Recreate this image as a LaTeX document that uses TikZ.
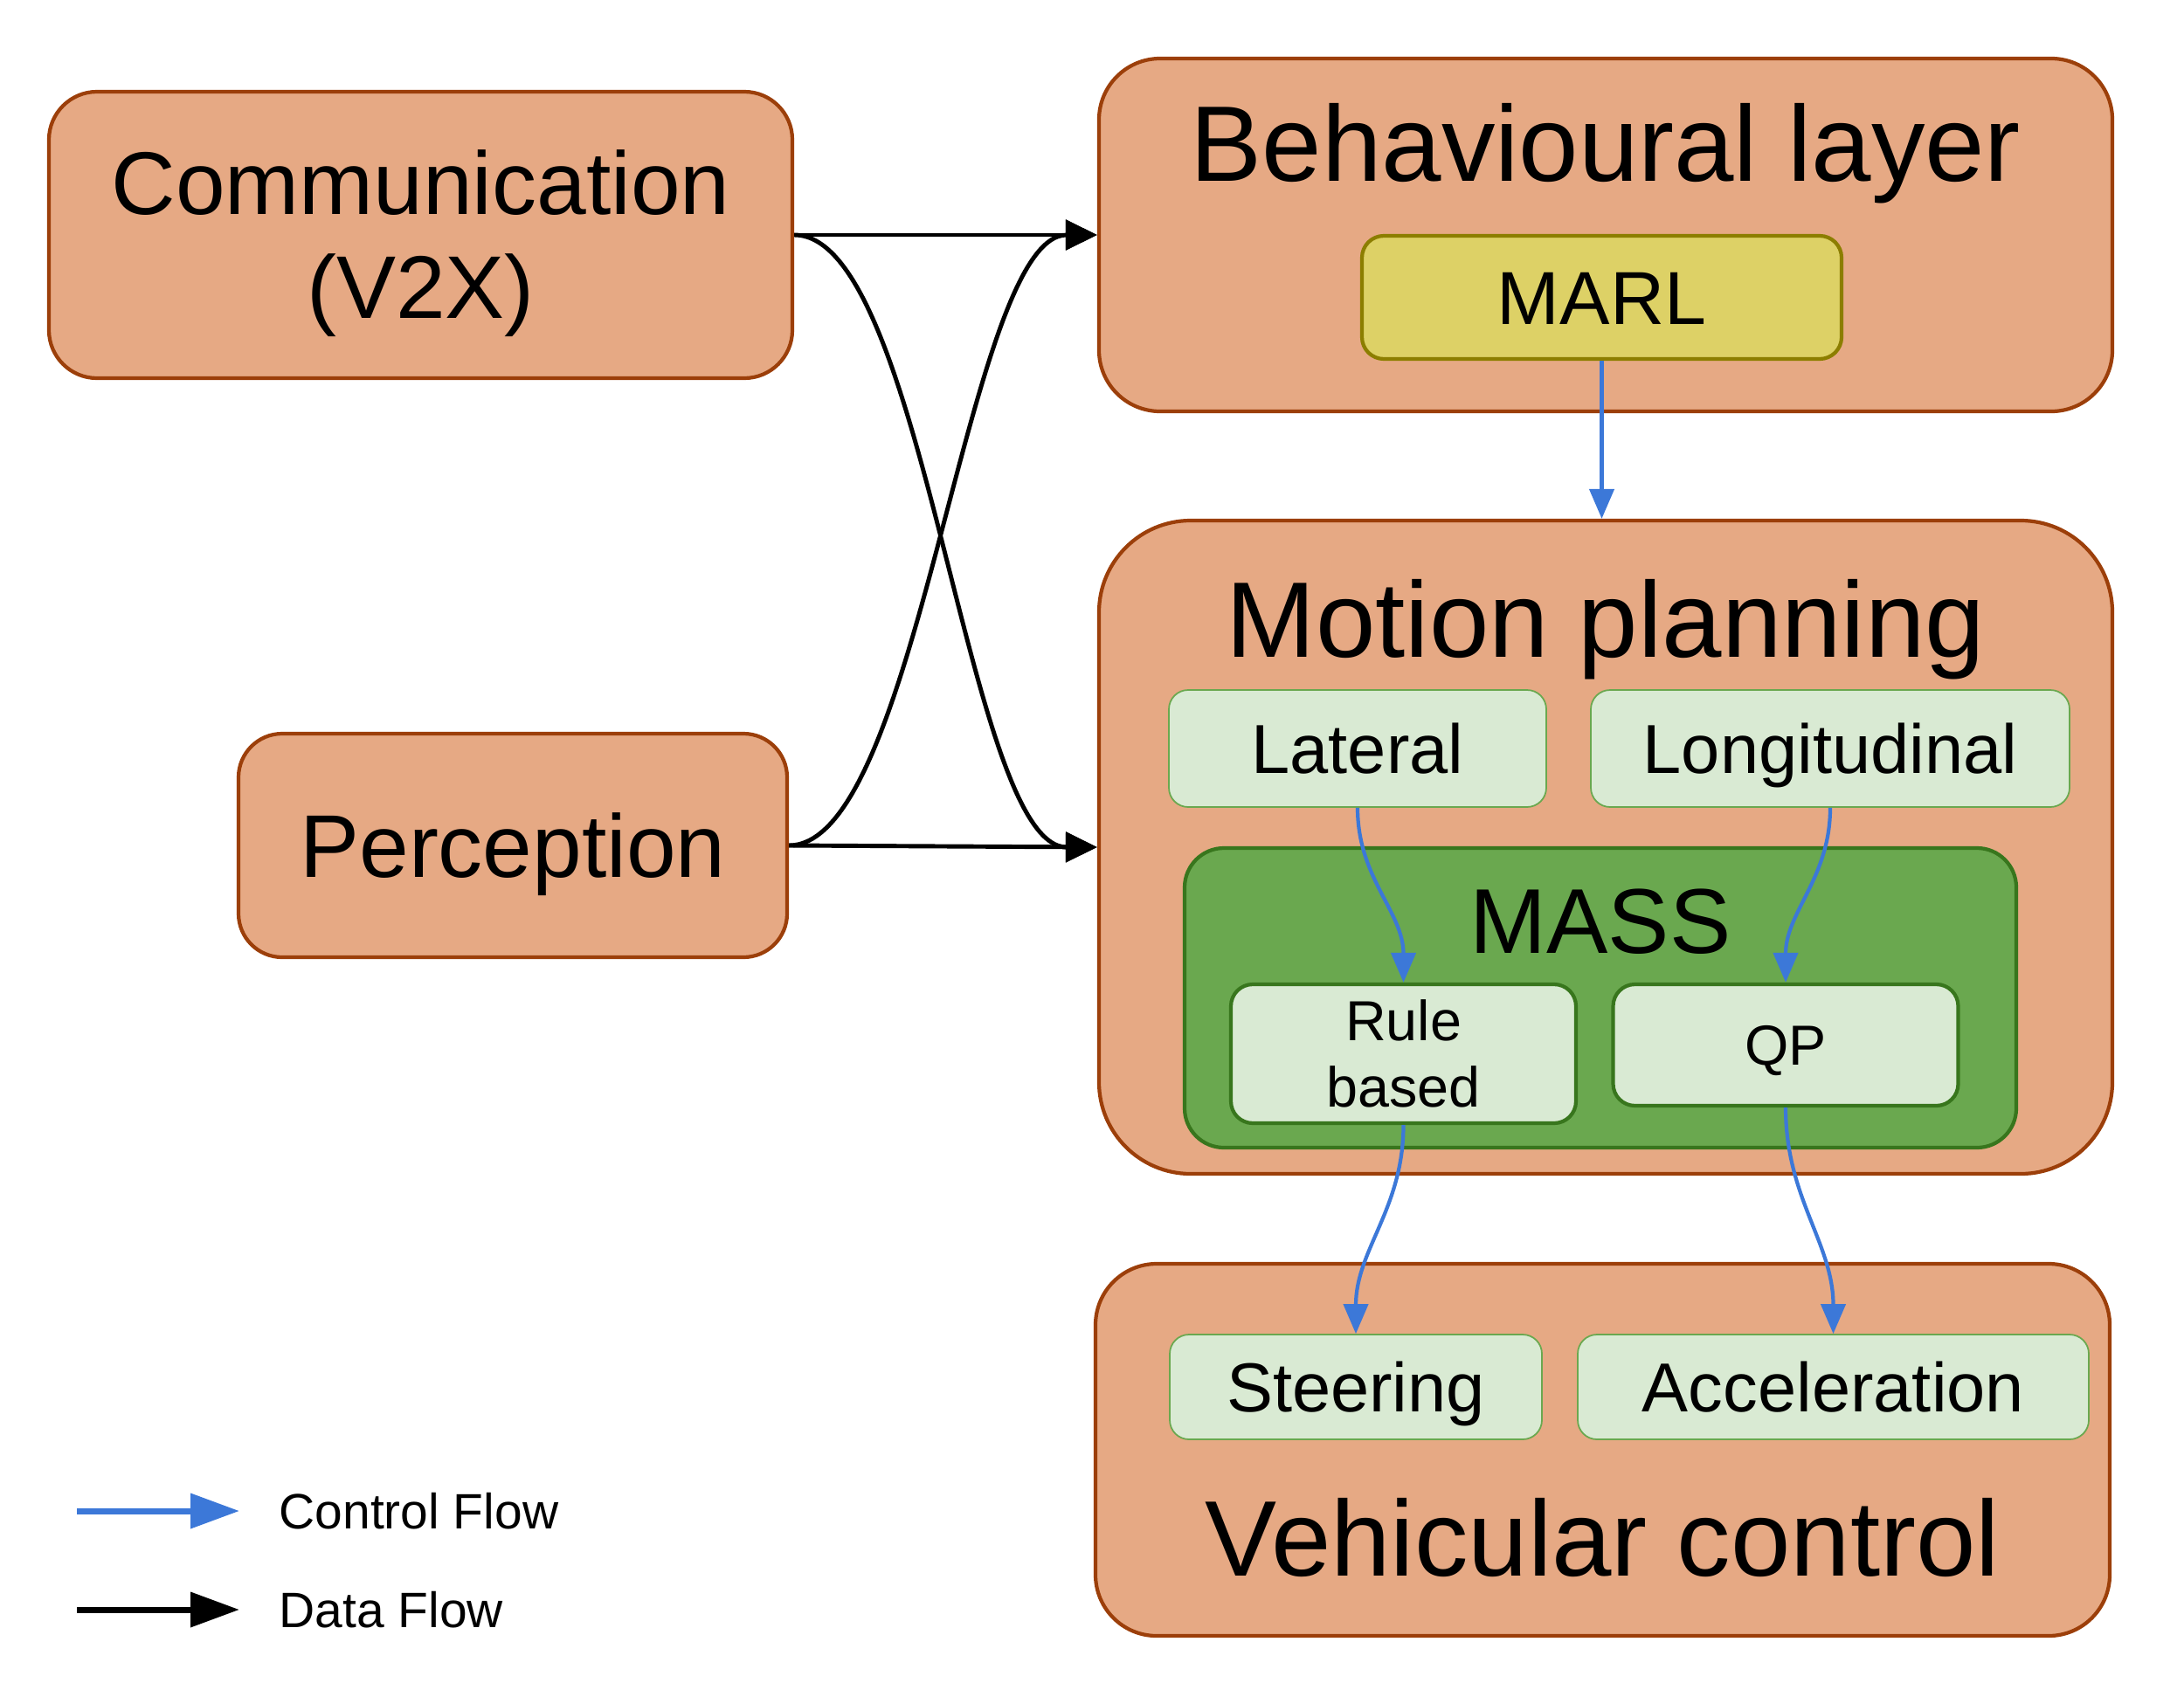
\documentclass[tikz,border=0pt]{standalone}
\usepackage{fontspec}
\setmainfont{Liberation Sans}
\usetikzlibrary{positioning,arrows.meta,fit}

\definecolor{layerfill}{HTML}{E6A984}
\definecolor{layerline}{HTML}{9C3F0A}
\definecolor{subfill}{HTML}{D9EAD3}
\definecolor{subline}{HTML}{6AA84F}
\definecolor{massfill}{HTML}{6AA84F}
\definecolor{massline}{HTML}{38761D}
\definecolor{marlfill}{HTML}{DDD166}
\definecolor{marlline}{HTML}{8C7E00}
\definecolor{ctrlblue}{HTML}{3C78D8}

\begin{document}
\begin{tikzpicture}[
  layer/.style={rectangle, rounded corners=#1, draw=layerline, fill=layerfill, line width=1.2pt, align=center, font=\fontsize{29}{34}\selectfont},
  layer/.default=0.6cm,
  oneline/.style={text height=#1, text depth=0pt},
  title/.style={inner sep=0pt, font=\fontsize{35}{40}\selectfont},
  marlbox/.style={rectangle, rounded corners=0.25cm, draw=marlline, fill=marlfill, line width=1.2pt, oneline=17.5pt, font=\fontsize{24.5}{28}\selectfont},
  subbox/.style={rectangle, rounded corners=0.22cm, draw=subline, fill=subfill, line width=0.5pt, minimum height=1.34cm, oneline=16.2pt, font=\fontsize{22.6}{26}\selectfont},
  massbox/.style={rectangle, rounded corners=0.45cm, draw=massline, fill=massfill, line width=1.2pt},
  masstitle/.style={inner sep=0pt, font=\fontsize{30}{34}\selectfont},
  solverbox/.style={rectangle, rounded corners=0.25cm, draw=massline, fill=subfill, line width=1.2pt, minimum width=3.95cm, align=center, font=\fontsize{18.4}{21.6}\selectfont},
  data/.style={line width=1.4pt, -{Triangle[length=3.6mm,width=3.4mm]}},
  ctrl/.style={ctrlblue, line width=1.2pt, -{Triangle[length=3.4mm,width=2.8mm]}},
  legend/.style={inner sep=0pt, anchor=west, font=\fontsize{16.2}{19}\selectfont}
]
\useasboundingbox (0,0) rectangle (25,-19.34);

\node (comm) [layer=0.55cm, minimum width=8.51cm, minimum height=3.28cm] at (4.815,-2.69) {\rule{0pt}{0.93cm}Communication\\(V2X)};
\node (percep) [layer=0.5cm, oneline=20.8pt, minimum width=6.28cm, minimum height=2.56cm] at (5.87,-9.68) {Perception};

\node (behav) [layer=0.7cm, minimum width=11.6cm, minimum height=4.04cm] at (18.38,-2.69) {};
\node (behavT) [title, below=1.43cm of behav.north, anchor=base] {Behavioural layer};
\node (marl) [marlbox, minimum width=5.49cm, minimum height=1.41cm] at (18.335,-3.405) {MARL};

\node (motion) [layer=1.05cm, minimum width=11.6cm, minimum height=7.48cm] at (18.38,-9.70) {};
\node (motionT) [title, below=1.59cm of motion.north, anchor=base] {Motion planning};
\node (lat) [subbox, minimum width=4.32cm] at (15.54,-8.57) {Lateral};
\node (lon) [subbox, minimum width=5.48cm] at (20.95,-8.57) {Longitudinal};
\node (mass) [massbox, minimum width=9.52cm, minimum height=3.43cm] at (18.32,-11.425) {};
\node (massT) [masstitle, below=1.23cm of mass.north, anchor=base] {MASS};
\node (rule) [solverbox, minimum height=1.59cm] at (16.065,-12.065) {Rule\\based};
\node (qp) [solverbox, oneline=13.2pt, minimum height=1.39cm] at (20.44,-11.965) {QP};

\node (vehic) [layer=0.7cm, minimum width=11.61cm, minimum height=4.26cm] at (18.345,-16.6) {};
\node (vehicT) [title, above=0.71cm of vehic.south, anchor=base] {Vehicular control};
\node (steer) [subbox, minimum width=4.26cm, minimum height=1.2cm] at (15.52,-15.88) {Steering};
\node (accel) [subbox, minimum width=5.85cm, minimum height=1.2cm] at (20.985,-15.88) {Acceleration};

% data flow
\draw [data] (comm.east) -- (behav.west);
\draw [data] (comm.east) .. controls +(1.5,0) and +(-1.5,0) .. (motion.west);
\draw [data] (percep.east) .. controls +(1.5,0) and +(-1.5,0) .. (behav.west);
\draw [data] (percep.east) -- (motion.west);

% control flow
\draw [ctrl] (marl.south) -- (marl.south |- motion.north);
\draw [ctrl] (lat.south) to[out=-90,in=90] (rule.north);
\draw [ctrl] (lon.south) to[out=-90,in=90] (qp.north);
\draw [ctrl] (rule.south) to[out=-90,in=90] (steer.north);
\draw [ctrl] (qp.south) to[out=-90,in=90] (accel.north);

% legend
\coordinate (ctrlA) at (0.88,-17.30);
\coordinate (ctrlB) at (2.74,-17.30);
\draw [ctrl, line width=2pt, -{Triangle[length=5.6mm,width=3.9mm]}] (ctrlA) -- (ctrlB);
\node (ctrlL) [legend, right=0.45cm of ctrlB] {Control Flow};
\coordinate (dataA) at (0.88,-18.43);
\coordinate (dataB) at (2.74,-18.43);
\draw [data, line width=2pt, -{Triangle[length=5.6mm,width=3.9mm]}] (dataA) -- (dataB);
\node (dataL) [legend, right=0.45cm of dataB] {Data Flow};

\end{tikzpicture}
\end{document}
